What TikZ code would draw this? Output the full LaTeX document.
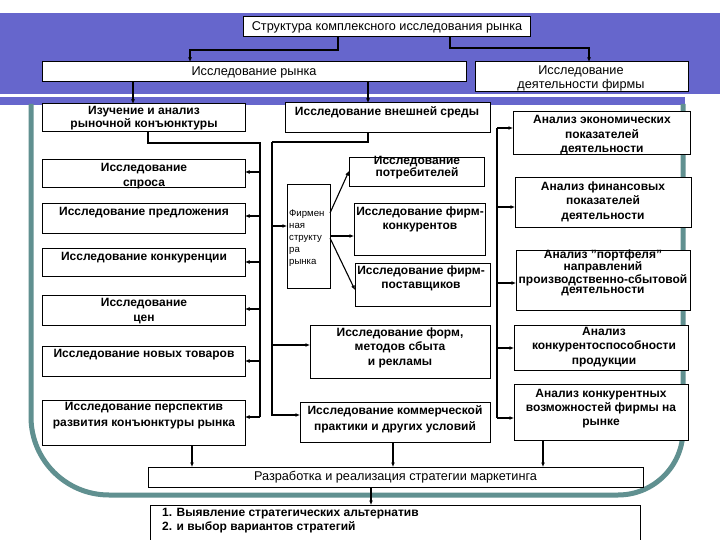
\documentclass[tikz,border=0pt]{standalone}
\usepackage{fontspec}
\setmainfont{Liberation Sans}
\usetikzlibrary{arrows.meta}
\definecolor{bandblue}{RGB}{102,102,204}
\definecolor{frameteal}{RGB}{96,144,144}
\tikzset{
  box/.style={draw=black, fill=white, line width=1pt, inner sep=0pt, outer sep=0pt},
  tb/.style={font=\fontsize{12}{14.5}\selectfont\bfseries, align=center, inner sep=0pt},
  tr/.style={font=\fontsize{12.7}{14}\selectfont, align=center, inner sep=0pt},
  fst/.style={font=\fontsize{9.6}{12}\selectfont, align=left, inner sep=0pt, anchor=west},
  conn/.style={line width=1.1pt, draw=black},
  arr/.style={conn, -{Latex[length=4.5pt,width=4pt]}},
}
\newcommand\mkbox[5]{\node[box, anchor=north west, minimum width={#4-#2}, minimum height={#5-#3}] (#1) at (#2,#3) {};}
\begin{document}
\begin{tikzpicture}[x=1pt,y=-1pt]
\useasboundingbox (0,0) rectangle (720,540);
\clip (0,0) rectangle (720,540);
\fill[white] (0,0) rectangle (720,540);
% background band
\fill[bandblue] (0,13) rectangle (720,94);
\fill[white] (0,94) rectangle (690,97);
\fill[bandblue] (0,97) rectangle (685,105);
% frame
\draw[frameteal, line width=5pt] (31,104) -- (31,417) arc[start angle=180, end angle=90, radius=78] -- (618,495) arc[start angle=90, end angle=0, radius=65] -- (683,104);
% boxes
\mkbox{top}{243}{17}{530}{37}
\mkbox{mkt}{42}{62}{466}{82}
\mkbox{firm}{475}{62}{688}{92}
\mkbox{konj}{42}{104}{245}{132}
\mkbox{ext}{285}{103}{490}{133}
\mkbox{dem}{42}{160}{245}{188}
\mkbox{offer}{42}{204}{245}{233}
\mkbox{comp}{42}{248}{245}{276}
\mkbox{price}{42}{295}{245}{325}
\mkbox{newg}{42}{346}{245}{376}
\mkbox{persp}{42}{400}{245}{445}
\mkbox{fs}{287}{185}{330}{288}
\mkbox{cons}{349}{158}{484}{187}
\mkbox{rivals}{354}{204}{485}{255}
\mkbox{suppl}{355}{263}{490}{306}
\mkbox{forms}{310}{325}{490}{378}
\mkbox{comm}{300}{402}{490}{442}
\mkbox{econ}{513}{112}{690}{155}
\mkbox{fin}{515}{178}{691}{228}
\mkbox{port}{516}{250}{690}{310}
\mkbox{compet}{514}{325}{688}{370}
\mkbox{opp}{514}{384}{688}{440}
\mkbox{strat}{148}{467}{643}{487}
\mkbox{alt}{150}{505}{640}{560}
% helper coordinates
\coordinate (xa) at (338,50);
\coordinate (xb) at (190,50);
\coordinate (xc) at (450,48);
\coordinate (xd) at (589,48);
\coordinate (xe) at (133,0);
\coordinate (xf) at (368,0);
\coordinate (b1x) at (148,143);
\coordinate (b1) at (260,143);
\coordinate (b2) at (272,142);
\coordinate (b3) at (497,128);
% connectors top
\draw[arr] (top.south -| xa) -- (xa) -- (xb) -- (xb |- mkt.north);
\draw[arr] (top.south -| xc) -- (xc) -- (xd) -- (xd |- firm.north);
\draw[arr] (mkt.south -| xe) -- (konj.north -| xe);
\draw[arr] (mkt.south -| xf) -- (ext.north -| xf);
% bus 1
\draw[conn] (konj.south -| b1x) -- (b1x) -- (b1) -- (b1 |- 0,417);
\foreach \n/\y in {dem/172, offer/216, comp/262, price/309, newg/361, persp/417}
  \draw[arr] (b1 |- 0,\y) -- (\n.east |- 0,\y);
% bus 2
\draw[conn] (ext.south -| xf) -- (xf |- b2) -- (b2);
\draw[arr] (b2) -- (b2 |- 0,415) -- (comm.west |- 0,415);
\draw[arr] (b2 |- 0,226) -- (fs.west |- 0,226);
\draw[arr] (b2 |- 0,345) -- (forms.west |- 0,345);
% firm structure
\draw[arr] (fs.east |- 0,213) -- (cons.west |- 0,171);
\draw[arr] (fs.east |- 0,236) -- (rivals.west |- 0,236);
\draw[arr] (fs.east |- 0,238) -- (suppl.west |- 0,290);
% bus 3
\draw[conn] (b3) -- (b3 |- 0,418);
\foreach \n/\y in {econ/128, fin/207, port/283, compet/348, opp/418}
  \draw[arr] (b3 |- 0,\y) -- (\n.west |- 0,\y);
% bottom
\draw[arr] (persp.south -| 192,0) -- (strat.north -| 192,0);
\draw[arr] (comm.south -| 393,0) -- (strat.north -| 393,0);
\draw[arr] (opp.south -| 543,0) -- (strat.north -| 543,0);
\draw[arr] (strat.south -| 371,0) -- (alt.north -| 371,0);
% texts
\node[tr] (top-t) at (387,27) {Структура комплексного исследования рынка};
\node[tr] (mkt-t) at (254,72) {Исследование рынка};
\node[tr] (firm-t) at (581,78) {Исследование\\деятельности фирмы};
\node[tb, font=\fontsize{12}{12.5}\selectfont\bfseries] (konj-t) at (144,118) {Изучение и анализ\\рыночной конъюнктуры};
\node[tb] (ext-t) at (387,112) {Исследование внешней среды};
\node[tb] (dem-t) at (144,176) {Исследование\\спроса};
\node[tb] (offer-t) at (144,213) {Исследование предложения};
\node[tb] (comp-t) at (144,258) {Исследование конкуренции};
\node[tb] (price-t) at (144,311) {Исследование\\цен};
\node[tb] (newg-t) at (144,355) {Исследование новых товаров};
\node[tb, font=\fontsize{12}{16}\selectfont\bfseries] (persp-t) at (144,416) {Исследование перспектив\\развития конъюнктуры рынка};
\node[fst] (fs-t) at (289,238) {Фирмен\\ная\\структу\\ра\\рынка};
\node[tb, font=\fontsize{12}{11}\selectfont\bfseries] (cons-t) at (417,167.5) {Исследование\\потребителей};
\node[tb] (rivals-t) at (420,219.5) {Исследование фирм-\\конкурентов};
\node[tb] (suppl-t) at (421,278.5) {Исследование фирм-\\поставщиков};
\node[tb] (forms-t) at (400,347.5) {Исследование форм,\\методов сбыта\\и рекламы};
\node[tb, font=\fontsize{12}{16}\selectfont\bfseries] (comm-t) at (395,419) {Исследование коммерческой\\практики и других условий};
\node[tb] (econ-t) at (602,135.5) {Анализ экономических\\показателей\\деятельности};
\node[tb] (fin-t) at (603,201.5) {Анализ финансовых\\показателей\\деятельности};
\node[tb, font=\fontsize{12}{10.7}\selectfont\bfseries] (port-t) at (603,273) {Анализ "портфеля"\\направлений\\производственно-сбытовой\\деятельности};
\node[tb] (compet-t) at (604,347) {Анализ\\конкурентоспособности\\продукции};
\node[tb, font=\fontsize{12}{14}\selectfont\bfseries] (opp-t) at (601,409) {Анализ конкурентных\\возможностей фирмы на\\рынке};
\node[tr] (strat-t) at (395.5,477) {Разработка и реализация стратегии маркетинга};
\node[tb, align=left, anchor=north west, font=\fontsize{12}{14}\selectfont\bfseries] (alt-t) at (162,508) {1. Выявление стратегических альтернатив\\2. и выбор вариантов стратегий};
\end{tikzpicture}
\end{document}
